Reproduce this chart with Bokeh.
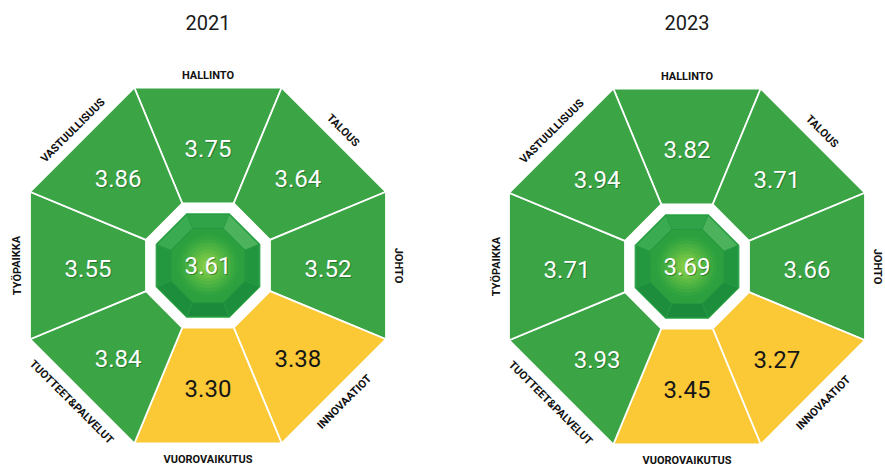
import numpy as np
from bokeh.plotting import figure
from bokeh.models import Range1d
from bokeh.core.properties import value
from bokeh.embed import file_html
from bokeh.resources import INLINE

# ---- data ----
categories = ["HALLINTO", "TALOUS", "JOHTO", "INNOVAATIOT", "VUOROVAIKUTUS",
              "TUOTTEET&PALVELUT", "TYÖPAIKKA", "VASTUULLISUUS"]
years = ["2021", "2023"]
values_2021 = [3.75, 3.64, 3.52, 3.38, 3.30, 3.84, 3.55, 3.86]
values_2023 = [3.82, 3.71, 3.66, 3.27, 3.45, 3.93, 3.71, 3.94]
overall = [3.61, 3.69]
threshold = 3.5

# ---- style / layout ----
GREEN = "#3ba444"
YELLOW = "#fbc936"
FONT = "Roboto"
centers = [(207.5, 203.0), (686.5, 202.0)]
A_OUT, A_IN, A_GEM, A_FACET = 178, 62, 52, 37
K = 1 / np.cos(np.pi / 8)
dirs = np.deg2rad([90, 45, 0, -45, -90, -135, 180, 135])
label_angles = np.deg2rad([0, -45, -90, 45, 0, -45, 90, 45])
label_r = [190, 191, 190, 193, 194, 193, 191, 191]

p = figure(width=885, height=468, x_range=Range1d(0, 885), y_range=Range1d(0, 468),
           output_backend="svg", toolbar_location=None, min_border=0)
p.axis.visible = False
p.grid.visible = False
p.outline_line_color = None
p.background_fill_color = "white"
p.border_fill_color = "white"


def pt(cx, cy, r, t):
    return cx + r * np.cos(t), cy + r * np.sin(t)


def octagon(cx, cy, a):
    ang = np.deg2rad(22.5 + 45 * np.arange(8))
    return list(cx + a * K * np.cos(ang)), list(cy + a * K * np.sin(ang))


def ring_piece(cx, cy, th, a_in, a_out):
    t1, t2 = th + np.pi / 8, th - np.pi / 8
    p1 = pt(cx, cy, a_out * K, t1)
    p2 = pt(cx, cy, a_out * K, t2)
    p3 = pt(cx, cy, a_in * K, t2)
    p4 = pt(cx, cy, a_in * K, t1)
    return [p1[0], p2[0], p3[0], p4[0]], [p1[1], p2[1], p3[1], p4[1]]


facet_colors = ["#30a247", "#4cb35c", "#22963f", "#1d8e3c", "#1b8b3b", "#1d8e3c", "#23983f", "#3aab50"]
glow = ["#2fa33f", "#38a940", "#43ae41", "#4fb443", "#5bba44", "#67c045", "#74c646", "#82cb48", "#8fd14a"]

for (cx, cy), year, vals, ov in zip(centers, years, [values_2021, values_2023], overall):
    xs, ys, cols, tx, ty, tcol = [], [], [], [], [], []
    for th, v in zip(dirs, vals):
        sx, sy = ring_piece(cx, cy, th, A_IN, A_OUT)
        xs.append(sx); ys.append(sy)
        cols.append(YELLOW if v < threshold else GREEN)
        r = 120 if abs(np.sin(2 * th)) < 0.5 else 127
        x, y = pt(cx, cy - 3, r, th)
        tx.append(x); ty.append(y)
        tcol.append("#161616" if v < threshold else "white")
    p.patches(xs=xs, ys=ys, fill_color=cols, line_color="white", line_width=1.8)

    # value shadows (green segments only)
    shx = [x + 1 for x, c in zip(tx, tcol) if c == "white"]
    shy = [y - 1.2 for y, c in zip(ty, tcol) if c == "white"]
    sht = [f"{v:.2f}" for v, c in zip(vals, tcol) if c == "white"]
    p.text(x=shx, y=shy, text=sht, text_font=value(FONT), text_font_size="24px",
           text_align="center", text_baseline="middle", text_color="#0f4d1a", text_alpha=0.5)
    p.text(x=tx, y=ty, text=[f"{v:.2f}" for v in vals], text_font=value(FONT),
           text_font_size="24px", text_align="center", text_baseline="middle", text_color=tcol)

    # category labels
    lx, ly = [], []
    for th, r in zip(dirs, label_r):
        x, y = pt(cx, cy, r, th)
        lx.append(x); ly.append(y)
    p.text(x=lx, y=ly, text=categories, angle=list(label_angles), text_font=value(FONT),
           text_font_style="bold", text_font_size="11px", text_align="center",
           text_baseline="middle", text_color="#111111")

    # title
    p.text(x=[cx], y=[446], text=[year], text_font=value(FONT), text_font_size="20px",
           text_align="center", text_baseline="middle", text_color="#1a1a1a")

    # gem
    gx, gy = octagon(cx, cy, A_GEM)
    p.patch(gx, gy, fill_color="#1f943f", line_color="#5cbf6c", line_width=1)
    fxs, fys = [], []
    for th in dirs:
        sx, sy = ring_piece(cx, cy, th, A_FACET, A_GEM - 1)
        fxs.append(sx); fys.append(sy)
    p.patches(xs=fxs, ys=fys, fill_color=facet_colors, line_color="#2a9c46", line_width=0.8)
    ix, iy = octagon(cx, cy, A_FACET)
    p.patch(ix, iy, fill_color="#2c9f3e", line_color="#26953e", line_width=0.8)
    radii = np.linspace(33, 6, len(glow))
    p.circle(x=[cx] * len(glow), y=[cy] * len(glow), radius=list(radii), fill_color=glow,
             line_color=None, fill_alpha=0.55)
    p.text(x=[cx + 1], y=[cy - 1.2], text=[f"{ov:.2f}"], text_font=value(FONT),
           text_font_size="24px", text_align="center", text_baseline="middle",
           text_color="#0f4d1a", text_alpha=0.5)
    p.text(x=[cx], y=[cy], text=[f"{ov:.2f}"], text_font=value(FONT),
           text_font_size="24px", text_align="center", text_baseline="middle",
           text_color="white")

open("out.html", "w").write(file_html(p, INLINE))
